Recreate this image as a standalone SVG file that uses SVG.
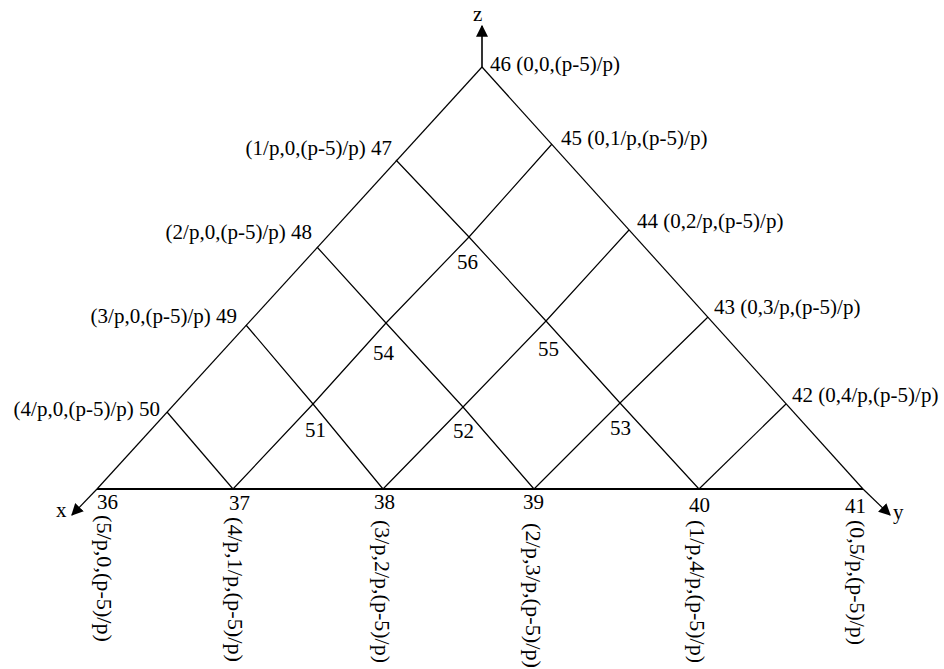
<svg xmlns="http://www.w3.org/2000/svg" width="944" height="669" viewBox="0 0 944 669">
<style>
text{font-family:"Liberation Serif","Times New Roman",serif;font-size:21px;fill:#000}
.v{font-size:22px}
.ln{fill:none;stroke:#000;stroke-width:1.2}
.base{fill:none;stroke:#000;stroke-width:2}
.ax{fill:none;stroke:#000;stroke-width:1.6}
</style>
<defs>
<marker id="ah" viewBox="0 0 10 10" refX="9" refY="5" markerWidth="12" markerHeight="12" markerUnits="userSpaceOnUse" orient="auto">
<path d="M0,0 L10,5 L0,10 Z" fill="#000"/>
</marker>
</defs>
<rect width="944" height="669" fill="#fff"/>
<g id="connectors">
<!-- outer edges -->
<polyline class="ln" points="482,67 97,489"/>
<polyline class="ln" points="482,67 863,489"/>
<line class="base" x1="97" y1="489" x2="863" y2="489"/>
<!-- axes -->
<line class="ax" x1="482" y1="67" x2="482" y2="26" marker-end="url(#ah)"/>
<line class="ln" x1="97" y1="489" x2="72" y2="515" marker-end="url(#ah)"/>
<line class="ln" x1="863" y1="489" x2="890" y2="515" marker-end="url(#ah)"/>
<!-- down-right lines -->
<polyline class="ln" points="396,160 469,237 546,321 620,403 699,489"/>
<polyline class="ln" points="317,247 386,323 463,407 534,489"/>
<polyline class="ln" points="246,325 313,404 383,489"/>
<polyline class="ln" points="167,412 233,489"/>
<!-- down-left lines -->
<polyline class="ln" points="552,144 469,237 386,323 313,404 233,489"/>
<polyline class="ln" points="629,230 546,321 463,407 383,489"/>
<polyline class="ln" points="708,317 620,403 534,489"/>
<polyline class="ln" points="786,404 699,489"/>
</g>
<g id="axis-labels">
<text x="473" y="21">z</text>
<text x="56" y="517">x</text>
<text x="893" y="519">y</text>
</g>
<g id="node-46"><text x="490" y="71">46 (0,0,(p-5)/p)</text></g>
<g id="node-45"><text x="561" y="145">45 (0,1/p,(p-5)/p)</text></g>
<g id="node-44"><text x="637" y="228">44 (0,2/p,(p-5)/p)</text></g>
<g id="node-43"><text x="714" y="314">43 (0,3/p,(p-5)/p)</text></g>
<g id="node-42"><text x="792" y="402">42 (0,4/p,(p-5)/p)</text></g>
<g id="node-47"><text x="392" y="155" text-anchor="end">(1/p,0,(p-5)/p) 47</text></g>
<g id="node-48"><text x="312" y="239" text-anchor="end">(2/p,0,(p-5)/p) 48</text></g>
<g id="node-49"><text x="237" y="323" text-anchor="end">(3/p,0,(p-5)/p) 49</text></g>
<g id="node-50"><text x="160" y="416" text-anchor="end">(4/p,0,(p-5)/p) 50</text></g>
<g id="node-56"><text x="457" y="269">56</text></g>
<g id="node-54"><text x="373" y="360">54</text></g>
<g id="node-55"><text x="538" y="356">55</text></g>
<g id="node-51"><text x="305" y="437">51</text></g>
<g id="node-52"><text x="453" y="438">52</text></g>
<g id="node-53"><text x="610" y="435">53</text></g>
<g id="node-36"><text x="97" y="509">36</text><text class="v" transform="translate(97,515) rotate(90)" textLength="127" lengthAdjust="spacingAndGlyphs">(5/p,0,(p-5)/p)</text></g>
<g id="node-37"><text x="229" y="510">37</text><text class="v" transform="translate(228,517) rotate(90)" textLength="145" lengthAdjust="spacingAndGlyphs">(4/p,1/p,(p-5)/p)</text></g>
<g id="node-38"><text x="374" y="509">38</text><text class="v" transform="translate(375,520) rotate(90)" textLength="143" lengthAdjust="spacingAndGlyphs">(3/p,2/p,(p-5)/p)</text></g>
<g id="node-39"><text x="523" y="509">39</text><text class="v" transform="translate(526,523) rotate(90)" textLength="145" lengthAdjust="spacingAndGlyphs">(2/p,3/p,(p-5)/p)</text></g>
<g id="node-40"><text x="689" y="512">40</text><text class="v" transform="translate(690,520) rotate(90)" textLength="143" lengthAdjust="spacingAndGlyphs">(1/p,4/p,(p-5)/p)</text></g>
<g id="node-41"><text x="845" y="513">41</text><text class="v" transform="translate(850,520) rotate(90)" textLength="125" lengthAdjust="spacingAndGlyphs">(0,5/p,(p-5)/p)</text></g>
</svg>
